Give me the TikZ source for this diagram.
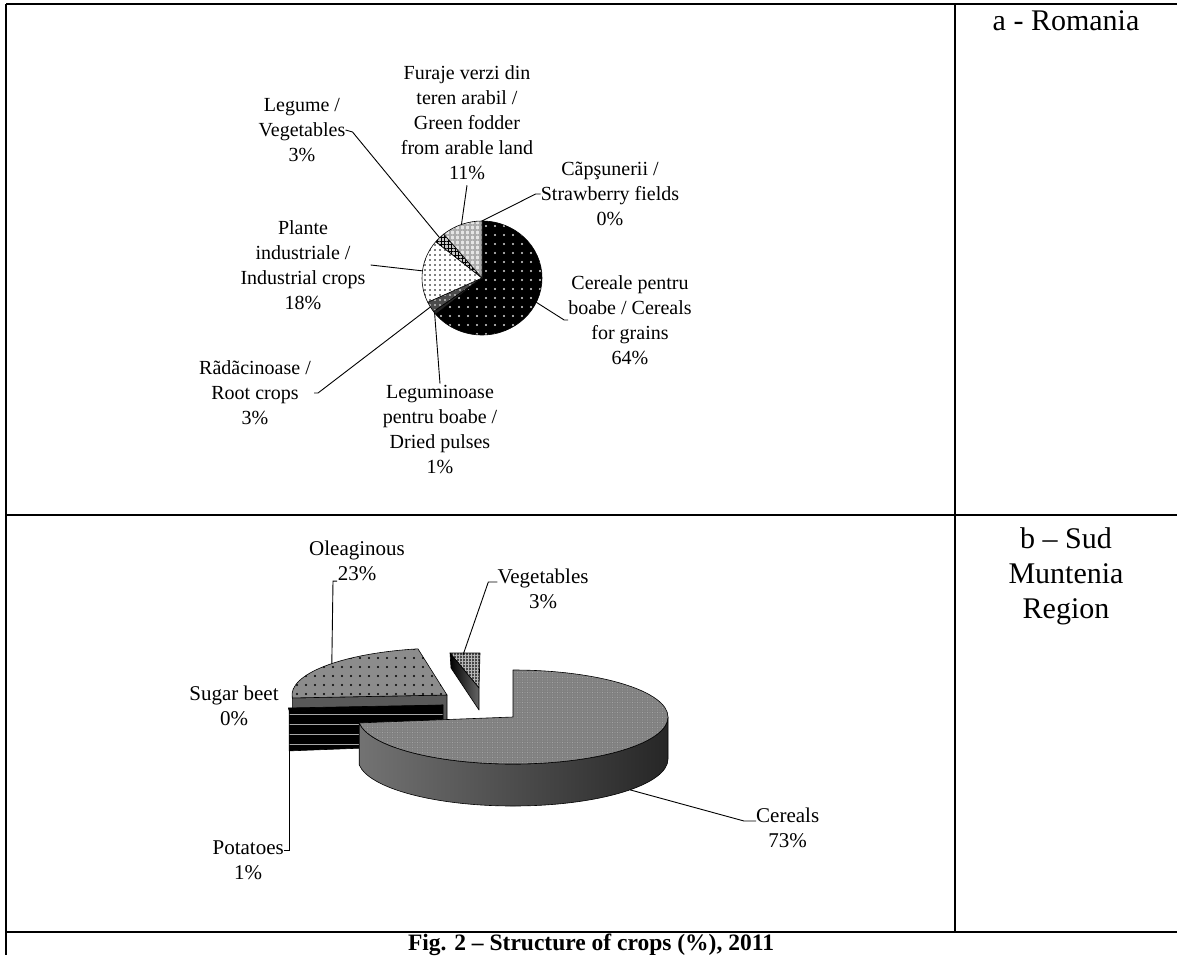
\documentclass[tikz,border=0pt]{standalone}
\usepackage{fontspec}
\setmainfont{Liberation Serif}
\usetikzlibrary{patterns.meta,calc}

\newcommand{\lblfont}{\fontsize{20}{25}\selectfont}
\newcommand{\lblfontB}{\fontsize{21}{25}\selectfont}
\newcommand{\colfont}{\fontsize{30}{35}\selectfont}
\newcommand{\captfont}{\fontsize{23.5}{28}\selectfont\bfseries}
% flat pie slice, radius 60 x 57
\newcommand{\pieA}[3]{\path[slice,#3] (0,0) -- (#1:60 and 57) arc[start angle=#1, end angle=#2, x radius=60, y radius=57] -- cycle;}

\begin{document}
\begin{tikzpicture}[x=1pt, y=-1pt,
    tabline/.style={line width=2.6pt},
    lbl/.style={align=center, inner sep=0pt, font=\lblfont},
    lblB/.style={align=center, inner sep=0pt, font=\lblfontB},
    collbl/.style={align=center, inner sep=0pt, font=\colfont},
    leader/.style={line width=0.9pt},
    slice/.style={draw=black, line width=0.6pt, line join=round},
    cerA/.style={preaction={fill=black}, pattern={Dots[distance=9pt,radius=1.1pt]}, pattern color=white!85!black},
    pulA/.style={fill=black!85},
    rootA/.style={preaction={fill=black!70}, pattern={Dots[distance=5pt,radius=0.9pt]}, pattern color=white},
    indA/.style={preaction={fill=white}, pattern={Dots[distance=5pt,radius=0.8pt]}, pattern color=black},
    vegA/.style={preaction={fill=gray!45}, pattern={Hatch[distance=3.5pt,line width=0.7pt]}, pattern color=black},
    fodA/.style={preaction={fill=gray!20}, pattern={Hatch[distance=5pt,line width=1.4pt]}, pattern color=gray!65},
    certop/.style={preaction={fill=black!50}, pattern={Dots[distance=2.5pt,radius=0.45pt]}, pattern color=black!28},
    cerside/.style={left color=black!55, middle color=black!45, right color=black!85},
    oleagtop/.style={preaction={fill=black!45}, pattern={Dots[distance=9pt,radius=1.2pt]}, pattern color=black},
    oleagface/.style={fill=black!65},
    potface/.style={preaction={fill=black}, pattern={Lines[distance=10pt,line width=1pt]}, pattern color=gray!70},
    vegBtop/.style={preaction={fill=black!72}, pattern={Hatch[distance=3pt,line width=0.6pt]}, pattern color=gray!55},
    vegBside/.style={left color=black, right color=black!60}
]
\useasboundingbox (0,0) rectangle (1177,955);

% table
\draw[tabline] (6,4) -- (1177,4);
\draw[tabline] (6,4) -- (6,955);
\draw[tabline] (955,4) -- (955,932);
\draw[tabline] (6,515) -- (1177,515);
\draw[tabline] (6,932) -- (1177,932);

\node[collbl, anchor=north] (romlab) at (1066,10) {a - Romania};
\node[collbl, anchor=north] (sudlab) at (1066,527) {b – Sud\\Muntenia\\Region};

% a - Romania
\begin{scope}[shift={(482,278)}, y=1pt]
  \pieA{90}{-140.4}{cerA}
  \pieA{-140.4}{-144}{pulA}
  \pieA{-144}{-154.8}{rootA}
  \pieA{-154.8}{-219.6}{indA}
  \pieA{-219.6}{-230.4}{vegA}
  \pieA{-230.4}{-270}{fodA}
  \coordinate (cerealsA) at (-25.2:60 and 57);
  \coordinate (pulsesA) at (-142.2:60 and 57);
  \coordinate (rootsA) at (-149.4:60 and 57);
  \coordinate (indusA) at (172.8:60 and 57);
  \coordinate (vegetA) at (135:60 and 57);
  \coordinate (fodderA) at (110:60 and 57);
  \coordinate (strawA) at (90:60 and 57);
\end{scope}

\node[lbl] (vegetlabA) at (302,130) {Legume /\\Vegetables\\3\%};
\node[lbl] (fodderlabA) at (467,123) {Furaje verzi din\\teren arabil /\\Green fodder\\from arable land\\11\%};
\node[lbl] (strawlabA) at (610,194) {Cãpşunerii /\\Strawberry fields\\0\%};
\node[lbl] (cereallabA) at (630,320) {Cereale pentru\\boabe / Cereals\\for grains\\64\%};
\node[lbl] (induslabA) at (303,265) {Plante\\industriale /\\Industrial crops\\18\%};
\node[lbl] (rootlabA) at (255,393) {Rãdãcinoase /\\Root crops\\3\%};
\node[lbl] (pulselabA) at (440,430) {Leguminoase\\pentru boabe /\\Dried pulses\\1\%};

\draw[leader] (vegetlabA.east) -- ++(7,2) -- (vegetA);
\draw[leader] ([yshift=-5pt]fodderlabA.south) -- (fodderA);
\draw[leader] (strawlabA.west) -- ++(-5,0) -- (strawA);
\draw[leader] (cereallabA.west) -- ++(-4,0) -- (cerealsA);
\draw[leader] ([xshift=5pt]induslabA.east) -- (indusA);
\draw[leader] ([xshift=3pt]rootlabA.east) -- ++(4,0) -- (rootsA);
\draw[leader] ([yshift=2pt]pulselabA.north) -- (pulsesA);

% b - Sud Muntenia, 3D pie
\begin{scope}[shift={(447,695)}, y=1pt]
  \path[slice, oleagface] (0,0) -- (183.6:155 and 47) -- ++(0,-38) -- (0,-38) -- cycle;
  \path[slice, oleagtop] (0,0) -- (183.6:155 and 47) arc[start angle=183.6, end angle=100.8, x radius=155, y radius=47] -- cycle;
  \coordinate (oleagB) at (138:155 and 47);
\end{scope}
\begin{scope}[shift={(443,705)}, y=1pt]
  \path[slice, potface] (0,0) -- (-172.8:155 and 47) -- ++(0,-40) -- (0,-40) -- cycle;
  \path[slice, fill=black] (0,0) -- (-176.4:155 and 47) arc[start angle=-176.4, end angle=-172.8, x radius=155, y radius=47] -- cycle;
  \coordinate (potB) at ($(-172.8:155 and 47)+(0,-40)$);
\end{scope}
\path[slice, vegBtop] (450,653) -- (480,653) -- (479,688) -- cycle;
\path[slice, vegBside] (450,653) -- (479,688) -- (479,710) -- (451,668) -- cycle;
\coordinate (vegB) at (463,655);
\begin{scope}[shift={(513,717)}, y=1pt]
  \path[slice, cerside] (-172.8:155 and 47) arc[start angle=-172.8, end angle=0, x radius=155, y radius=47] -- ++(0,-42) arc[start angle=0, end angle=-172.8, x radius=155, y radius=47] -- cycle;
  \path[slice, certop] (0,0) -- (90:155 and 47) arc[start angle=90, end angle=-172.8, x radius=155, y radius=47] -- cycle;
  \coordinate (cerealsB) at ($(-41:155 and 47)+(0,-42)$);
\end{scope}

\node[lblB] (oleaglabB) at (357,561) {Oleaginous\\23\%};
\node[lblB] (vegetlabB) at (543,589) {Vegetables\\3\%};
\node[lblB] (sugarlabB) at (234,706) {Sugar beet\\0\%};
\node[lblB, anchor=east] (potlabB) at (284,860) {Potatoes\\1\%};
\node[lblB, anchor=west] (cereallabB) at (756,828) {Cereals\\73\%};

\draw[leader] ([xshift=-20pt]oleaglabB.south) -- ++(-4,0) -- (oleagB);
\draw[leader] ([yshift=7pt]vegetlabB.west) -- ++(-9,0) -- (vegB);
\draw[leader] (potB) |- ([yshift=10pt]potlabB.east);
\draw[leader] ([yshift=7pt]cereallabB.west) -- ++(-12,0) -- (cerealsB);

\node[font=\captfont, inner sep=0pt, anchor=north] (caption) at (591,933.5) {Fig. 2 – Structure of crops (\%), 2011};
\end{tikzpicture}
\end{document}
